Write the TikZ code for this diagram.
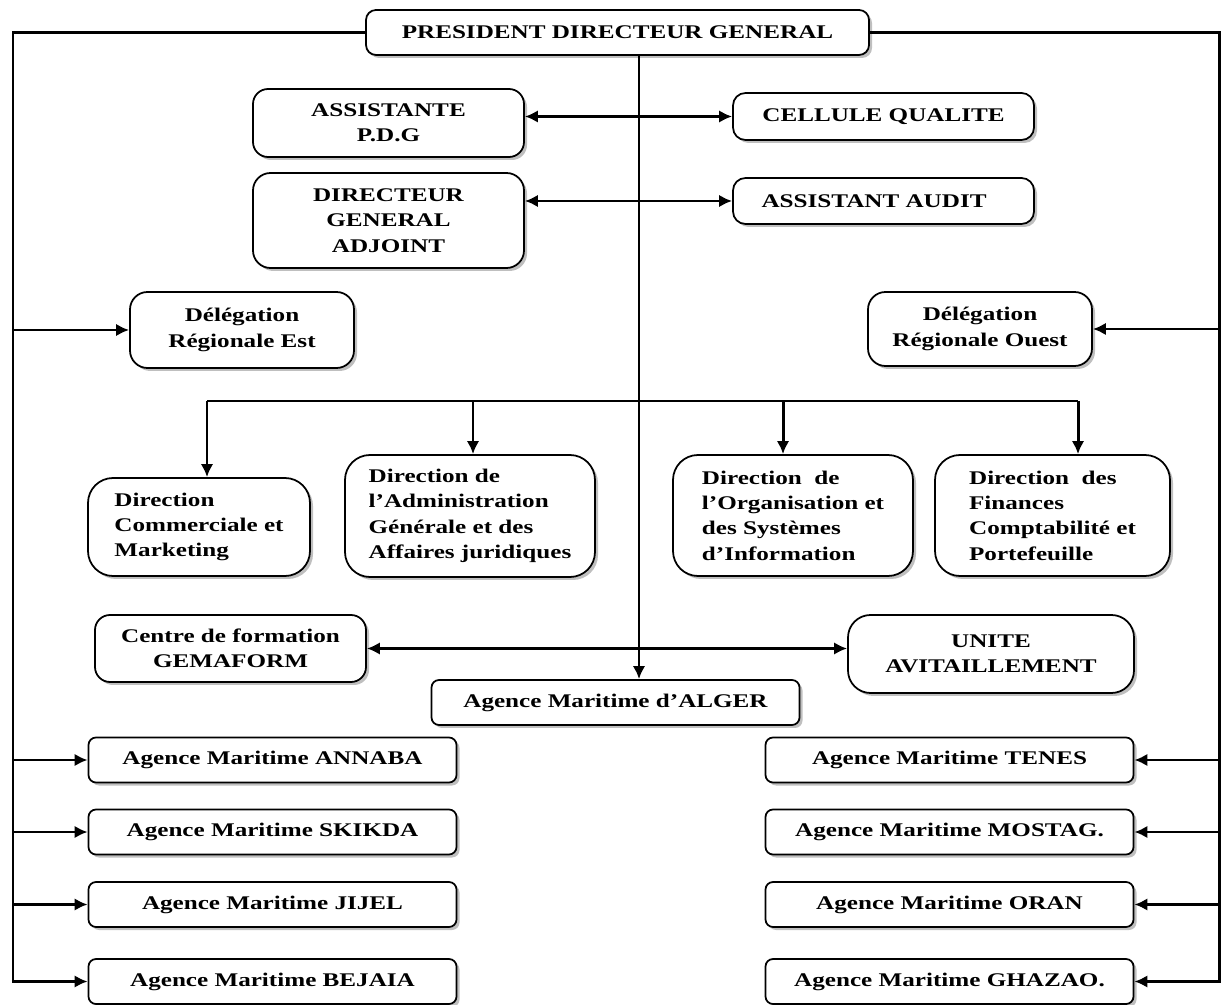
\documentclass[tikz,border=0pt]{standalone}
\usepackage{fontspec}
\setmainfont{Liberation Serif}[FakeStretch=1.3]
\usetikzlibrary{arrows.meta, shadows}

\begin{document}
\begin{tikzpicture}[
% Define block styles
box/.style = {rectangle, draw=black, fill=white, line width=1pt, align=center, inner sep=2pt, font=\bfseries\fontsize{11}{14.4}\selectfont, drop shadow={shadow xshift=0.06cm, shadow yshift=-0.06cm, fill=black!50}},
agence/.style = {box, rounded corners=0.15cm, minimum width=7.36cm, minimum height=0.9cm},
direction/.style = {box, rounded corners=0.5cm, align=left, minimum height=2.42cm},
arrow/.style = {line width=1.7pt, ->, >={Latex[length=2.6mm, width=2.5mm]}},
link/.style = {line width=1.7pt}
]
\useasboundingbox (0,0) rectangle (24.5,-20.1);

% Direction generale
\node (pdg) [box, rounded corners=0.2cm, minimum width=10.06cm, minimum height=0.9cm] at (12.35,-0.65) {PRESIDENT DIRECTEUR GENERAL};
\node (assist) [box, rounded corners=0.3cm, minimum width=5.42cm, minimum height=1.36cm] at (7.77,-2.46) {ASSISTANTE\\P.D.G};
\node (cellule) [box, rounded corners=0.25cm, minimum width=6.02cm, minimum height=0.94cm] at (17.67,-2.33) {CELLULE QUALITE};
\node (dga) [box, rounded corners=0.35cm, minimum width=5.42cm, minimum height=1.9cm] at (7.77,-4.41) {DIRECTEUR\\GENERAL\\ADJOINT};
\node (audit) [box, rounded corners=0.25cm, minimum width=6.02cm, minimum height=0.92cm] at (17.67,-4.02) {ASSISTANT AUDIT~~~};

% Delegations
\node (delest) [box, rounded corners=0.35cm, minimum width=4.48cm, minimum height=1.52cm] at (4.84,-6.6) {Délégation\\Régionale Est};
\node (delouest) [box, rounded corners=0.35cm, minimum width=4.48cm, minimum height=1.48cm] at (19.6,-6.58) {Délégation\\Régionale Ouest};

% Directions
\node (dircom) [direction, minimum width=4.44cm, minimum height=1.96cm] at (3.98,-10.54) {Direction\\Commerciale et\\Marketing};
\node (diradm) [direction, minimum width=5.0cm, minimum height=2.44cm] at (9.4,-10.32) {Direction de\\l’Administration\\Générale et des\\Affaires juridiques};
\node (dirorg) [direction, minimum width=4.8cm] at (15.86,-10.31) {Direction~~de\\l’Organisation et\\des Systèmes\\d’Information};
\node (dirfin) [direction, minimum width=4.7cm] at (21.05,-10.31) {Direction~~des\\Finances\\Comptabilité et\\Portefeuille};

% Unites
\node (gemaform) [box, rounded corners=0.3cm, minimum width=5.42cm, minimum height=1.34cm] at (4.61,-12.97) {Centre de formation\\GEMAFORM};
\node (unite) [box, rounded corners=0.45cm, minimum width=5.72cm, minimum height=1.56cm] at (19.82,-13.08) {UNITE\\AVITAILLEMENT};

% Agences
\node (alger) [agence] at (12.31,-14.05) {Agence Maritime d’ALGER};
\node (annaba) [agence] at (5.45,-15.2) {Agence Maritime ANNABA};
\node (skikda) [agence] at (5.45,-16.64) {Agence Maritime SKIKDA};
\node (jijel) [agence] at (5.45,-18.09) {Agence Maritime JIJEL};
\node (bejaia) [agence] at (5.45,-19.63) {Agence Maritime BEJAIA};
\node (tenes) [agence] at (18.99,-15.2) {Agence Maritime TENES};
\node (mostag) [agence] at (18.99,-16.64) {Agence Maritime MOSTAG.};
\node (oran) [agence] at (18.99,-18.09) {Agence Maritime ORAN};
\node (ghazao) [agence] at (18.99,-19.63) {Agence Maritime GHAZAO.};

% Guide lines
\coordinate (lft) at (0.26,0);
\coordinate (rgt) at (24.38,0);
\coordinate (mid) at (12.78,0);
\coordinate (b1) at (4.14,-8.02);
\coordinate (b2) at (9.46,-8.02);
\coordinate (b3) at (15.66,-8.02);
\coordinate (b4) at (21.56,-8.02);

% Arrows
\draw [arrow] (mid |- pdg.south) -- (mid |- alger.north);
\draw [arrow, <->] (assist.east |- cellule.west) -- (cellule.west);
\draw [arrow, <->] (dga.east |- audit.west) -- (audit.west);
\draw [arrow, <->] (gemaform.east) -- (unite.west |- gemaform.east);

\draw [link] (b1) -- (b4);
\draw [arrow] (b1) -- (b1 |- dircom.north);
\draw [arrow] (b2) -- (b2 |- diradm.north);
\draw [arrow] (b3) -- (b3 |- dirorg.north);
\draw [arrow] (b4) -- (b4 |- dirfin.north);

\draw [arrow] (pdg.west) -| (lft |- bejaia.west) -- (bejaia.west);
\draw [arrow] (lft |- delest.west) -- (delest.west);
\draw [arrow] (lft |- annaba.west) -- (annaba.west);
\draw [arrow] (lft |- skikda.west) -- (skikda.west);
\draw [arrow] (lft |- jijel.west) -- (jijel.west);

\draw [arrow] (pdg.east) -| (rgt |- ghazao.east) -- (ghazao.east);
\draw [arrow] (rgt |- delouest.east) -- (delouest.east);
\draw [arrow] (rgt |- tenes.east) -- (tenes.east);
\draw [arrow] (rgt |- mostag.east) -- (mostag.east);
\draw [arrow] (rgt |- oran.east) -- (oran.east);
\end{tikzpicture}
\end{document}
